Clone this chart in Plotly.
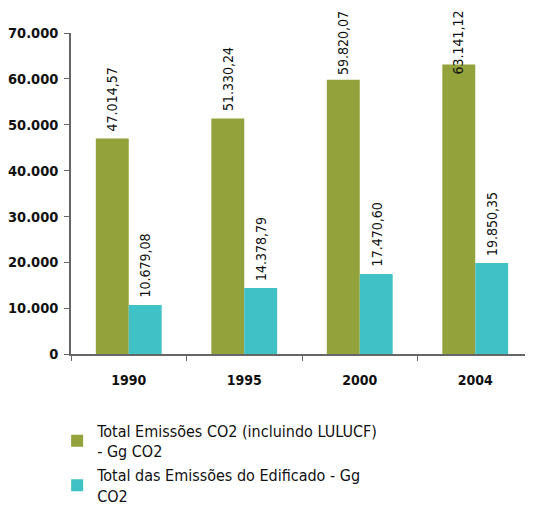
import plotly.graph_objects as go

years = ["1990", "1995", "2000", "2004"]
total_co2 = [47014.57, 51330.24, 59820.07, 63141.12]
edificado = [10679.08, 14378.79, 17470.60, 19850.35]
series_names = ["Total Emissões CO2 (incluindo LULUCF)<br>- Gg CO2",
                "Total das Emissões do Edificado - Gg<br>CO2"]
colors = ["#94A23B", "#3FC1C6"]
y_ticks = [0, 10000, 20000, 30000, 40000, 50000, 60000, 70000]

def fmt(v):
    s = f"{v:,.2f}"
    return s.replace(",", "X").replace(".", ",").replace("X", ".")

FONT = "DejaVu Sans Condensed, Roboto, sans-serif"

fig = go.Figure()
for k, (name, vals, col) in enumerate(zip(series_names, [total_co2, edificado], colors)):
    fig.add_trace(go.Bar(x=years, y=vals, name=name, marker_color=col,
                         marker_line_width=0, legendgroup=f"g{k}"))

annotations = []
label_cap = 59300
for j, vals in enumerate([total_co2, edificado]):
    for i, (yr, v) in enumerate(zip(years, vals)):
        annotations.append(dict(
            x=i + (-0.145 if j == 0 else 0.145), y=min(v, label_cap),
            xref="x", yref="y", text=fmt(v), showarrow=False,
            textangle=-90, yanchor="bottom", xanchor="center", yshift=5,
            font=dict(family=FONT, size=14, color="#111")))

fig.update_layout(
    width=525, height=500,
    margin=dict(l=63, r=0, t=25, b=154, autoexpand=False),
    paper_bgcolor="white", plot_bgcolor="white",
    separators=",.",
    barmode="group", bargap=0.43, bargroupgap=0,
    font=dict(family=FONT, size=14, color="#111"),
    showlegend=True,
    legend=dict(x=-0.03, y=-0.185, xanchor="left", yanchor="top",
                orientation="v", tracegroupgap=0, traceorder="grouped",
                font=dict(family=FONT, size=16, color="#111"),
                itemwidth=30),
    annotations=annotations,
)
fig.update_xaxes(type="category", showline=True, linecolor="#666", linewidth=1.5,
                 ticks="outside", tickson="boundaries", ticklen=5, tickcolor="#666",
                 tickfont=dict(family=FONT, size=14, color="#111", weight="bold"),
                 ticklabelstandoff=12,
                 showgrid=False, range=[-0.5, 3.5], automargin=False)
fig.update_yaxes(range=[0, 70000], tickvals=y_ticks, tickformat=",d",
                 showline=True, linecolor="#666", linewidth=1.5,
                 ticks="outside", ticklen=5, tickcolor="#666",
                 tickfont=dict(family=FONT, size=14.5, color="#111", weight="bold"),
                 ticklabelstandoff=3,
                 showgrid=False, zeroline=False, automargin=False)

fig.write_html("out.html")
